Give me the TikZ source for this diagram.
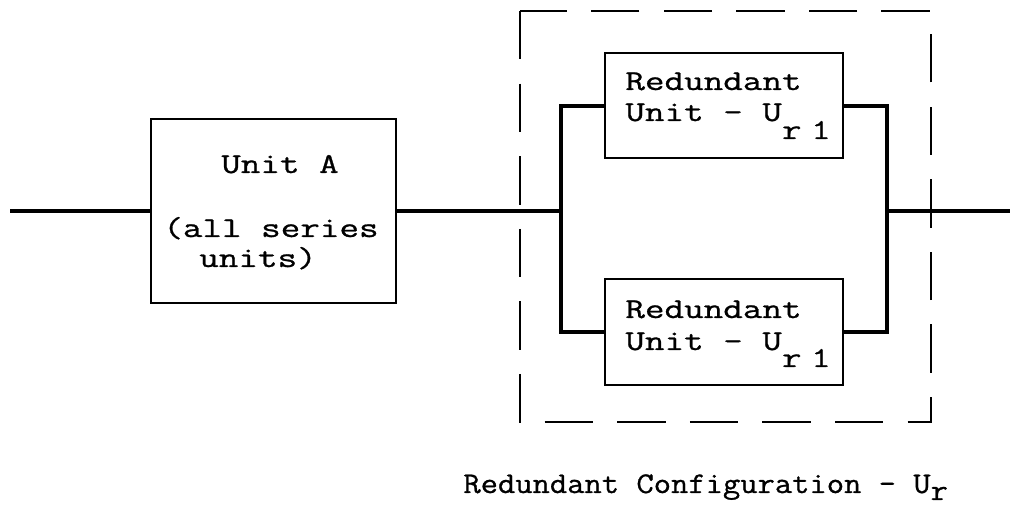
\documentclass[tikz,border=0pt]{standalone}
\usepackage{fontspec}
\newfontfamily\boxfont{Latin Modern Mono}[FakeStretch=1.32, FakeBold=0.9]
\newfontfamily\lblfont{Latin Modern Mono}[FakeStretch=1.12, FakeBold=0.9]
\begin{document}
\begin{tikzpicture}[x=0.5pt,y=-0.5pt,
  txt/.style={font=\boxfont\fontsize{14.4}{17}\selectfont, inner sep=0pt},
  lbl/.style={font=\lblfont\fontsize{15}{18}\selectfont, inner sep=0pt},
  unitbox/.style={draw, line width=1pt, inner sep=0pt},
  wire/.style={line width=2pt},
  frame/.style={line width=1pt, dash pattern=on 24.2pt off 12.1pt}]
\useasboundingbox (0,0) rectangle (1016,506);
% dashed enclosure
\draw[frame] (520,11) rectangle (931,422);
% boxes
\node[unitbox, minimum width=122.5pt, minimum height=92pt] (A) at (273.5,211) {};
\node[unitbox, minimum width=119pt, minimum height=52.5pt] (R1) at (724,106) {};
\node[unitbox, minimum width=119pt, minimum height=53pt] (R2) at (724,332) {};
% junctions and free ends
\coordinate (in) at (10,211);
\coordinate (jL) at (561,211);
\coordinate (jR) at (887,211);
\coordinate (out) at (1010,211);
% connectors
\draw[wire] (in) -- (A.west);
\draw[wire] (A.east) -- (jL);
\draw[wire] (R1.west) -| (jL) |- (R2.west);
\draw[wire] (R1.east) -| (jR) |- (R2.east);
\draw[wire] (jR) -- (out);
% texts
\node[txt, anchor=base] (a1) at (280,173) {Unit A};
\node[txt, anchor=base] (a2) at (271,237) {(all series};
\node[txt, anchor=base] (a3) at (258,267) {units)};
\node[txt, anchor=base west] (r1a) at (625,90) {Redundant};
\node[txt, anchor=base west] (r1b) at (625,121) {Unit - U\raisebox{-9pt}{r\kern4.8pt 1}};
\node[txt, anchor=base west] (r2a) at (625,318) {Redundant};
\node[txt, anchor=base west] (r2b) at (625,350) {Unit - U\raisebox{-8.5pt}{r\kern4.8pt 1}};
\node[lbl, anchor=base west] (cfg) at (463,493) {Redundant Configuration - U\raisebox{-3.5pt}{r}};
\end{tikzpicture}
\end{document}
